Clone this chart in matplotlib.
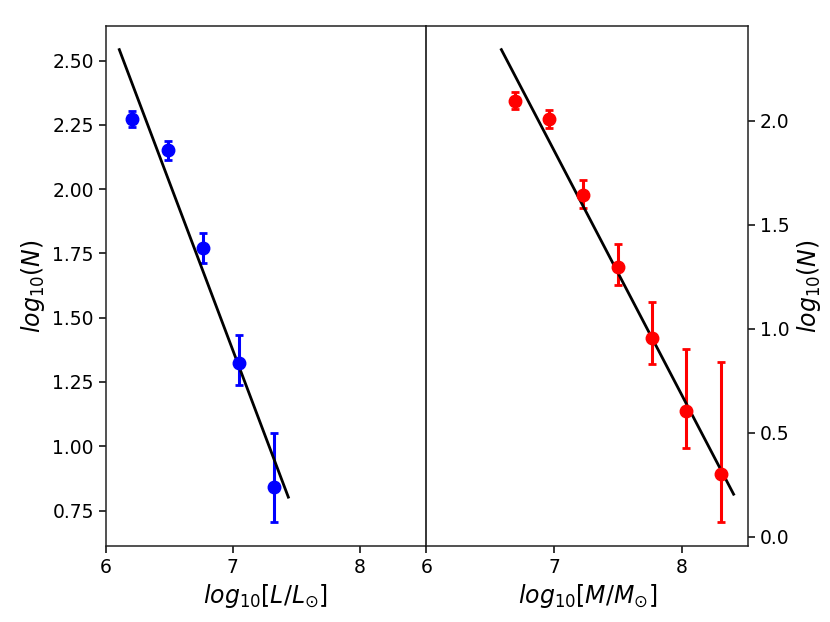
import matplotlib
matplotlib.use("Agg")
import matplotlib.pyplot as plt
import numpy as np

# Left panel: luminosity function
lum_x = [6.204, 6.487, 6.767, 7.048, 7.326]
lum_y = [2.274, 2.151, 1.771, 1.325, 0.843]
lum_err_lo = [0.032, 0.037, 0.058, 0.088, 0.138]
lum_err_hi = [0.032, 0.037, 0.058, 0.107, 0.208]
lum_fit_x = [6.107, 7.436]
lum_fit_y = [2.543, 0.802]

# Right panel: mass function
mass_x = [6.693, 6.962, 7.229, 7.498, 7.765, 8.034, 8.306]
mass_y = [2.097, 2.009, 1.644, 1.299, 0.955, 0.605, 0.302]
mass_err_lo = [0.040, 0.045, 0.064, 0.088, 0.125, 0.177, 0.231]
mass_err_hi = [0.040, 0.045, 0.069, 0.110, 0.176, 0.298, 0.537]
mass_fit_x = [6.588, 8.405]
mass_fit_y = [2.342, 0.205]

x_ticks = [6, 7, 8]

fig = plt.figure(figsize=(8.3, 6.22), dpi=100)
ax1 = fig.add_axes([105.7/830, 1-545.7/622, 320.5/830, (545.7-26)/622])
ax2 = fig.add_axes([426.2/830, 1-545.7/622, 322.1/830, (545.7-26)/622])

for ax in (ax1, ax2):
    for s in ax.spines.values():
        s.set_linewidth(1.1)
        s.set_color('#222222')
    ax.tick_params(labelsize=13.5, width=1.1, length=5)
ax1.spines['right'].set_visible(False)
ax2.spines['left'].set_color('black')

ax1.errorbar(lum_x, lum_y, yerr=[lum_err_lo, lum_err_hi], fmt='o', color='b',
             markersize=9, elinewidth=2.2, capsize=3, capthick=2)
ax1.plot(lum_fit_x, lum_fit_y, color='k', lw=2)
ax1.set_xlim(6, 8.52)
ax1.set_xticks(x_ticks)
ax1.set_xlabel(r'$log_{10}[L/L_{\odot}]$', fontsize=17)
ax1.set_ylabel(r'$log_{10}(N)$', fontsize=17)

ax2.errorbar(mass_x, mass_y, yerr=[mass_err_lo, mass_err_hi], fmt='o', color='r',
             markersize=9, elinewidth=2.2, capsize=3, capthick=2)
ax2.plot(mass_fit_x, mass_fit_y, color='k', lw=2)
ax2.set_xlim(6, 8.52)
ax2.set_xticks(x_ticks)
ax2.yaxis.tick_right()
ax2.yaxis.set_label_position('right')
ax2.set_xlabel(r'$log_{10}[M/M_{\odot}]$', fontsize=17)
ax2.set_ylabel(r'$log_{10}(N)$', fontsize=17)

fig.savefig('out.png', dpi=100)
